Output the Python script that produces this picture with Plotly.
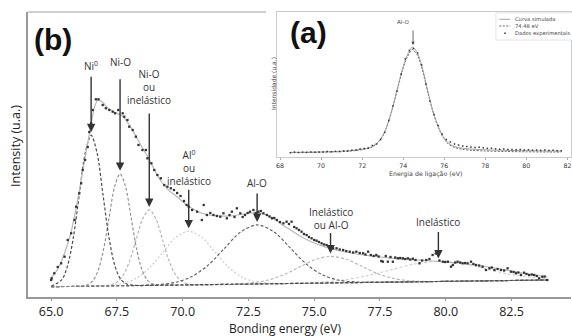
import plotly.graph_objects as go

W, H = 572, 336

# ---------------- panel (b): main spectrum ----------------
b_data = [(65.0, 17), (65.02, 18.7), (65.12, 23.7), (65.25, 30), (65.38, 33.7), (65.51, 40.3), (65.63, 57),
          (65.76, 63.7), (65.89, 77), (65.95, 90.3), (66.07, 103.7), (66.14, 113.7), (66.2, 127), (66.29, 137),
          (66.39, 150), (66.45, 165), (66.52, 173.7), (66.58, 187), (66.7, 197.7), (66.8, 197.7), (66.96, 192),
          (67.08, 188.7), (67.21, 187), (67.34, 185.3), (67.43, 183.7), (67.55, 187), (67.72, 183.7),
          (67.78, 180.3), (67.9, 177), (67.97, 170.3), (68.1, 167), (68.22, 160.3), (68.32, 152), (68.47, 147),
          (68.6, 147), (68.66, 138.7), (68.81, 133.7), (68.92, 127), (69.04, 122), (69.17, 118.7), (69.3, 112),
          (69.42, 110.3), (69.55, 108.7), (69.67, 107), (69.79, 104), (69.92, 101), (70.05, 96), (70.15, 92),
          (70.23, 90.3), (70.36, 87), (70.55, 85.3), (70.73, 77), (70.8, 92), (70.92, 82), (71.05, 84),
          (71.17, 82), (71.3, 81), (71.43, 80.3), (71.55, 83.7), (71.68, 78.7), (71.78, 82), (71.87, 85.3),
          (71.97, 80), (72.06, 88.7), (72.19, 83.7), (72.28, 80), (72.37, 82), (72.47, 84), (72.56, 85.3),
          (72.69, 87), (72.78, 84), (72.88, 85.3), (72.97, 86), (73.07, 83.7), (73.2, 82), (73.3, 80.5),
          (73.39, 78.7), (73.48, 79), (73.58, 77), (73.7, 75), (73.83, 73.7), (73.95, 75.3), (74.04, 73),
          (74.14, 75.3), (74.24, 70), (74.33, 68.7), (74.42, 67), (74.52, 65.3), (74.61, 63), (74.71, 62),
          (74.8, 60), (74.9, 58.7), (75.0, 57), (75.09, 56.3), (75.18, 55), (75.28, 53.7), (75.37, 52.5),
          (75.47, 52), (75.6, 50), (75.72, 48.7), (75.85, 48.7), (75.97, 47.5), (76.1, 47), (76.22, 46),
          (76.35, 45.3), (76.48, 44.5), (76.6, 45.3), (76.73, 44), (76.86, 43.7), (76.95, 42.5), (77.05, 45.3),
          (77.15, 42), (77.26, 41), (77.36, 42), (77.45, 40.5), (77.55, 36), (77.61, 35.3), (77.72, 41),
          (77.8, 35.3), (77.9, 40), (77.99, 35.3), (78.08, 39.5), (78.18, 38.7), (78.27, 39), (78.37, 38.7),
          (78.46, 38), (78.56, 38.7), (78.65, 37.5), (78.75, 38.3), (78.85, 37), (79.0, 33.7), (79.1, 36.5),
          (79.26, 37), (79.38, 38), (79.5, 42), (79.62, 43.5), (79.76, 36.5), (79.89, 35.3), (79.98, 35),
          (80.08, 35.3), (80.2, 30.3), (80.27, 32), (80.36, 34.5), (80.45, 35.3), (80.55, 34.5), (80.64, 33.7),
          (80.73, 34), (80.83, 33.7), (80.96, 35.3), (81.05, 33), (81.15, 32), (81.27, 31.5), (81.4, 30.3),
          (81.53, 27), (81.66, 28.7), (81.75, 29.5), (81.85, 27), (81.97, 28), (82.1, 27), (82.22, 26.5),
          (82.35, 28.7), (82.48, 25.3), (82.58, 25), (82.67, 23.7), (82.76, 24.5), (82.86, 22), (82.98, 24.3),
          (83.07, 23), (83.17, 22), (83.27, 22.5), (83.36, 22), (83.46, 21), (83.55, 18.7), (83.67, 20.3),
          (83.76, 20.5), (83.86, 17)]

b_envelope = [(65.0, 19), (65.25, 28), (65.5, 43), (65.75, 64), (66.0, 96), (66.25, 133), (66.5, 170),
              (66.65, 190), (66.78, 197), (66.95, 195), (67.15, 189), (67.4, 185), (67.7, 181), (67.95, 173),
              (68.2, 162), (68.45, 150), (68.7, 139), (68.95, 126), (69.2, 115), (69.5, 106), (69.8, 100),
              (70.1, 93), (70.4, 88), (70.7, 84), (71.0, 82), (71.4, 81), (71.8, 81), (72.2, 82.5), (72.6, 84),
              (72.9, 84), (73.2, 82), (73.5, 78), (73.8, 72), (74.1, 67), (74.4, 62), (74.7, 57.5), (75.0, 54),
              (75.3, 51), (75.6, 48.5), (76.0, 46), (76.5, 43.5), (77.0, 41.5), (77.5, 40), (78.0, 38.7),
              (78.5, 37.5), (79.0, 36.8), (79.5, 36), (80.0, 35), (80.5, 34), (81.0, 32.5), (81.5, 30.5),
              (82.0, 28.5), (82.5, 26), (83.0, 23.5), (83.5, 21.5), (83.86, 20)]

b_background = [(65.0, 10.3), (83.86, 17.0)]

b_ni0 = [(65.0, 10.8), (65.4, 17.2), (65.62, 30.9), (65.845, 59.6), (66.07, 102.3), (66.295, 144.0),
         (66.52, 161.8), (66.745, 144.2), (66.97, 102.6), (67.195, 60.1), (67.42, 31.6), (67.645, 17.8),
         (67.87, 13.0), (68.2, 11.6), (69.0, 11.7), (72.0, 12.8), (78.0, 14.9), (83.86, 17.0)]

b_nio = [(65.0, 10.3), (65.8, 10.6), (66.15, 11.0), (66.36, 12.0), (66.57, 15.8), (66.78, 26.1), (66.99, 47.4),
         (67.2, 79.0), (67.41, 110.0), (67.62, 123.2), (67.83, 110.1), (68.04, 79.3), (68.25, 47.9),
         (68.46, 26.7), (68.67, 16.5), (68.88, 12.9), (69.09, 12.0), (69.6, 11.9), (75.0, 13.85), (83.86, 17.0)]

b_nio_inel = [(65.0, 10.3), (66.5, 10.8), (67.23, 11.9), (67.48, 14.5), (67.73, 21.5), (67.98, 35.9),
              (68.23, 57.2), (68.48, 78.2), (68.73, 87.1), (68.98, 78.3), (69.23, 57.6), (69.48, 36.4),
              (69.73, 22.2), (69.98, 15.4), (70.23, 13.0), (70.73, 12.33), (76.0, 14.2), (83.86, 17.0)]

b_al0 = [(65.0, 10.3), (66.0, 10.7), (66.73, 11.0), (67.23, 11.7), (67.73, 13.6), (68.23, 18.7), (68.73, 29.0),
         (69.23, 44.2), (69.73, 59.2), (70.23, 65.7), (70.73, 59.5), (71.23, 44.9), (71.73, 30.1),
         (72.23, 20.1), (72.73, 15.4), (73.23, 13.8), (73.73, 13.5), (78.0, 14.9), (83.86, 17.0)]

b_alo = [(65.0, 10.3), (67.5, 11.2), (68.455, 11.7), (69.08, 12.4), (69.705, 14.6), (70.33, 20.2),
         (70.955, 31.6), (71.58, 48.4), (72.205, 65.0), (72.83, 72.1), (73.455, 65.4), (74.08, 49.3),
         (74.705, 32.9), (75.33, 21.9), (75.955, 16.8), (76.58, 15.1), (77.205, 14.8), (80.0, 15.6),
         (83.86, 17.0)]

b_inel_alo = [(65.0, 10.3), (69.0, 11.7), (71.42, 12.6), (72.02, 13.1), (72.62, 14.2), (73.22, 16.8),
              (73.82, 22.0), (74.42, 29.7), (75.02, 37.3), (75.62, 40.6), (76.22, 37.7), (76.82, 30.6),
              (77.42, 23.3), (78.02, 18.5), (78.62, 16.3), (79.22, 15.6), (79.82, 15.6), (83.86, 17.0)]

b_inel = [(65.0, 10.3), (70.0, 12.1), (73.39, 13.3), (74.29, 13.8), (75.19, 14.8), (76.09, 16.9), (76.99, 21.1),
          (77.89, 27.0), (78.79, 32.9), (79.69, 35.5), (80.59, 33.5), (81.49, 28.3), (82.39, 23.0),
          (83.29, 19.5), (83.86, 18.4)]

b_tick_vals = [65.0, 67.5, 70.0, 72.5, 75.0, 77.5, 80.0, 82.5]
b_tick_text = ["65.0", "67.5", "70.0", "72.5", "75.0", "77.5", "80.0", "82.5"]

b_peak_labels = ["Ni<sup>0</sup>", "Ni-O", "Ni-O<br>ou<br>inelástico", "Al<sup>0</sup><br>ou<br>inelástico",
                 "Al-O", "Inelástico<br>ou Al-O", "Inelástico"]
b_peak_centers = [66.52, 67.62, 68.73, 70.23, 72.83, 75.62, 79.72]

# ---------------- panel (a): inset ----------------
a_data_e = [68.5, 68.7, 68.9, 69.1, 69.3, 69.5, 69.7, 69.9, 70.1, 70.3, 70.5, 70.7, 70.9, 71.1, 71.3, 71.5,
            71.7, 71.9, 72.1, 72.3, 72.5, 72.7, 72.9, 73.1, 73.3, 73.5, 73.7, 73.9, 74.1, 74.3, 74.5, 74.7,
            74.9, 75.1, 75.3, 75.5, 75.7, 75.9, 76.1, 76.3, 76.5, 76.7, 76.9, 77.1, 77.3, 77.5, 77.7, 77.9,
            78.1, 78.3, 78.5, 78.7, 78.9, 79.1, 79.3, 79.5, 79.7, 79.9, 80.1, 80.3, 80.5, 80.7, 80.9, 81.1,
            81.3, 81.5, 81.7]
a_data_v = [4.3, 4.9, 4.5, 4.8, 4.6, 5.0, 4.7, 5.1, 5.0, 5.4, 5.2, 5.6, 5.5, 6.1, 6.0, 6.8,
            7.0, 7.9, 8.6, 9.0, 11.5, 13.0, 17.5, 24.5, 36.5, 51.0, 66.0, 83.0, 98.0, 106.5, 108.5, 104.0,
            92.0, 73.0, 56.0, 42.5, 31.5, 23.0, 17.5, 15.0, 13.0, 12.0, 11.0, 10.5, 10.0, 9.6, 9.8, 9.2,
            8.6, 8.8, 8.1, 7.8, 8.0, 7.4, 7.6, 7.2, 7.5, 7.0, 7.3, 6.8, 7.0, 6.6, 6.9, 6.4,
            6.7, 6.3, 6.2]

a_sim = [(68.5, 4.6), (69.5, 4.8), (70.4, 5.3), (71.2, 6.0), (71.7, 7.0), (72.1, 8.2), (72.4, 9.6), (72.7, 13.5),
         (72.95, 19.5), (73.2, 30.5), (73.45, 47), (73.7, 67), (73.95, 87), (74.2, 102), (74.45, 110),
         (74.7, 104), (74.95, 88), (75.2, 66), (75.45, 46), (75.7, 31), (75.95, 20.5), (76.2, 14), (76.5, 10.5),
         (76.9, 8.8), (77.4, 7.8), (78.0, 7.2), (79.0, 6.6), (80.0, 6.3), (81.0, 6.0), (81.7, 5.9)]

a_comp = [(68.5, 4.4), (69.5, 4.6), (70.4, 5.0), (71.2, 5.6), (71.7, 6.5), (72.1, 7.7), (72.4, 9.2), (72.7, 13.0),
          (72.95, 19.0), (73.2, 30.0), (73.45, 46.5), (73.7, 66), (73.95, 85.5), (74.2, 100), (74.45, 107.5),
          (74.7, 101.5), (74.95, 86), (75.2, 64.5), (75.45, 45), (75.7, 30), (75.95, 19.5), (76.2, 13),
          (76.5, 9.5), (76.9, 7.6), (77.4, 6.6), (78.0, 6.0), (79.0, 5.5), (80.0, 5.2), (81.0, 5.0), (81.7, 4.9)]

a_tick_vals = [68, 70, 72, 74, 76, 78, 80, 82]
a_peak_center = 74.48
a_legend_labels = ["Curva simulada", "74.48 eV", "Dados experimentais"]


def px(xp):
    return xp / W


def py(yp):
    return 1 - yp / H


def xs(pts):
    return [p[0] for p in pts]


def ys(pts):
    return [p[1] for p in pts]


def label(text, x, y, size, family="Open Sans", color="#222222", angle=0, xanchor="center"):
    return dict(text=text, x=px(x), y=py(y), xref="paper", yref="paper", showarrow=False,
                xanchor=xanchor, yanchor="middle", textangle=angle,
                font=dict(family=family, size=size, color=color))


fig = go.Figure()

# components of panel (b)
comp_styles = [
    (b_background, "#6a6a6a", "3px,2px", 1.1),
    (b_inel, "#cfcfcf", "3px,2px", 1.1),
    (b_inel_alo, "#b4b4b4", "3px,2px", 1.1),
    (b_al0, "#cdcdcd", "2px,2px", 1.2),
    (b_nio_inel, "#b0b0b0", "3px,2px", 1.1),
    (b_alo, "#5a5a5a", "3px,2px", 1.1),
    (b_nio, "#8a8a8a", "3px,2px", 1.1),
    (b_ni0, "#4a4a4a", "3px,2px", 1.2),
]
for pts, col, dash, wdt in comp_styles:
    fig.add_trace(go.Scatter(x=xs(pts), y=ys(pts), mode="lines",
                             line=dict(color=col, width=wdt, dash=dash, shape="spline", smoothing=0.9),
                             xaxis="x", yaxis="y", hoverinfo="skip", showlegend=False))

fig.add_trace(go.Scatter(x=xs(b_envelope), y=ys(b_envelope), mode="lines",
                         line=dict(color="#b8b8b8", width=1.2, shape="spline", smoothing=0.8),
                         xaxis="x", yaxis="y", hoverinfo="skip", showlegend=False))
fig.add_trace(go.Scatter(x=xs(b_data), y=ys(b_data), mode="markers",
                         marker=dict(symbol="square", size=2.3, color="#333333"),
                         xaxis="x", yaxis="y", hoverinfo="skip", showlegend=False))

# inset (a)
fig.add_trace(go.Scatter(x=xs(a_comp), y=ys(a_comp), mode="lines",
                         line=dict(color="#555555", width=0.9, dash="2px,1.5px", shape="spline", smoothing=0.8),
                         xaxis="x2", yaxis="y2", hoverinfo="skip", showlegend=False))
fig.add_trace(go.Scatter(x=xs(a_sim), y=ys(a_sim), mode="lines",
                         line=dict(color="#9a9a9a", width=0.9, shape="spline", smoothing=0.8),
                         xaxis="x2", yaxis="y2", hoverinfo="skip", showlegend=False))
fig.add_trace(go.Scatter(x=a_data_e, y=a_data_v, mode="markers",
                         marker=dict(symbol="square", size=1.5, color="#333333"),
                         xaxis="x2", yaxis="y2", hoverinfo="skip", showlegend=False))

annotations = []
# peak labels (b)
label_pos = [(90, 66), (119.5, 62), (148.5, 87), (188.3, 168), (257, 183), (330.7, 218.5), (439, 222)]
arrow_len = [57, 93, 95, 40, 30, 22, 28]
comp_for_peak = [b_ni0, b_nio, b_nio_inel, b_al0, b_alo, b_inel_alo, b_inel]
for txt, (lx, ly), cen, ln, comp in zip(b_peak_labels, label_pos, b_peak_centers, arrow_len, comp_for_peak):
    annotations.append(label(txt, lx, ly, 10, color="#333333"))
    annotations.append(dict(text="", x=cen, y=max(ys(comp)) + 3, xref="x", yref="y", showarrow=True,
                            ax=0, ay=-ln, arrowhead=2, arrowsize=1.2, arrowwidth=1.4, arrowcolor="#333333"))

# inset peak arrow
annotations.append(label("Al-O", 403, 22, 5.5, family="DejaVu Sans", color="#444444"))
annotations.append(dict(text="", x=a_peak_center, y=max(ys(a_sim)) + 2, xref="x2", yref="y2", showarrow=True,
                        ax=0, ay=-16, arrowhead=2, arrowsize=0.8, arrowwidth=0.8, arrowcolor="#444444"))

# panel letters
annotations.append(label("<b>(b)</b>", 52, 39, 30, family="Liberation Sans", color="#111111"))
annotations.append(label("<b>(a)</b>", 309, 33, 30, family="Liberation Sans", color="#111111"))

# axis titles
annotations.append(label("Bonding energy (eV)", 285, 328.5, 12))
annotations.append(label("Intensity (u.a.)", 14, 146, 12.5, angle=-90))
annotations.append(label("Energia de ligação (eV)", 426, 174, 6.3, family="DejaVu Sans", color="#444444"))
annotations.append(label("Intensidade (u.a.)", 273, 84, 6, family="DejaVu Sans", color="#444444", angle=-90))

# legend of inset
leg_rows = [19.3, 26.0, 33.3]
for txt, ry in zip(a_legend_labels, leg_rows):
    annotations.append(label(txt, 513.5, ry, 5.2, family="DejaVu Sans", color="#444444", xanchor="left"))

shapes = [
    # top spine of main panel (visible part)
    dict(type="line", xref="paper", yref="paper", x0=px(27), x1=px(266), y0=py(12), y1=py(12),
         line=dict(color="#a0a0a0", width=1.2)),
    # legend box
    dict(type="rect", xref="paper", yref="paper", x0=px(496.7), x1=px(574), y0=py(12.7), y1=py(40),
         line=dict(color="#dddddd", width=0.8), fillcolor="white"),
    dict(type="line", xref="paper", yref="paper", x0=px(500), x1=px(511), y0=py(leg_rows[0]), y1=py(leg_rows[0]),
         line=dict(color="#9a9a9a", width=0.9)),
    dict(type="line", xref="paper", yref="paper", x0=px(500), x1=px(511), y0=py(leg_rows[1]), y1=py(leg_rows[1]),
         line=dict(color="#555555", width=0.9, dash="2px,1.5px")),
    dict(type="rect", xref="paper", yref="paper", x0=px(505), x1=px(506.5), y0=py(32.6), y1=py(34.1),
         line=dict(width=0), fillcolor="#333333"),
]

fig.update_layout(
    width=W, height=H, margin=dict(l=0, r=0, t=0, b=0),
    paper_bgcolor="white", plot_bgcolor="white", showlegend=False,
    font=dict(family="Open Sans", color="#222222"),
    xaxis=dict(domain=[px(27), 1.0], range=[64.117, 84.761], anchor="y",
               tickvals=b_tick_vals, ticktext=b_tick_text, ticks="outside", ticklen=2, tickwidth=1,
               tickcolor="#999999", showline=True, linecolor="#999999", linewidth=1.5,
               showgrid=False, zeroline=False, tickfont=dict(family="Open Sans", size=12.5, color="#222222")),
    yaxis=dict(domain=[1 - 297 / H, 1 - 12 / H], range=[0, 285], anchor="x",
               showticklabels=False, ticks="", showline=True, linecolor="#999999", linewidth=1.5,
               showgrid=False, zeroline=False),
    xaxis2=dict(domain=[px(277), 1.0], range=[67.854, 82.175], anchor="y2",
                tickvals=a_tick_vals, ticks="outside", ticklen=2, tickwidth=0.8, tickcolor="#aaaaaa",
                showline=True, mirror=True, linecolor="#cccccc", linewidth=1,
                showgrid=False, zeroline=False, tickfont=dict(family="DejaVu Sans", size=6.3, color="#333333")),
    yaxis2=dict(domain=[1 - 157 / H, 1 - 12 / H], range=[0, 145], anchor="x2",
                showticklabels=False, ticks="", showline=True, mirror=True, linecolor="#cccccc", linewidth=1,
                showgrid=False, zeroline=False),
    annotations=annotations,
    shapes=shapes,
)

fig.write_html("out.html")
